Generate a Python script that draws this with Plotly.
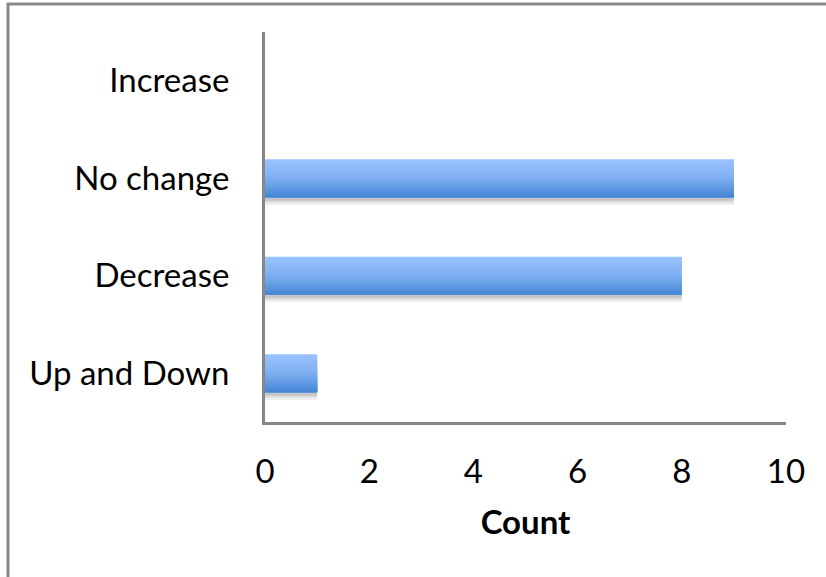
import plotly.graph_objects as go

categories = ["Increase", "No change", "Decrease", "Up and Down"]
counts = [0, 9, 8, 1]
x_ticks = [0, 2, 4, 6, 8, 10]
x_title = "Count"

W, H = 826, 577
L, R, T, B = 265, 40, 32, 155

bar_w = 0.39
n_strips = 16
top_rgb = (152, 194, 255)
mid_rgb = (126, 175, 240)
bot_rgb = (72, 136, 216)

def lerp(a, b, t):
    return tuple(int(round(a[i] + (b[i] - a[i]) * t)) for i in range(3))

fig = go.Figure()

# soft shadow under each bar
for alpha, extra in [(0.06, 0.07), (0.08, 0.045), (0.10, 0.025)]:
    fig.add_trace(go.Bar(
        y=categories, x=counts, orientation="h",
        width=bar_w + extra, offset=-bar_w / 2 + 0.01,
        marker=dict(color=f"rgba(0,0,0,{alpha})", line=dict(width=0)),
        hoverinfo="skip", showlegend=False,
    ))

sw = bar_w / n_strips
for i in range(n_strips):
    t = i / (n_strips - 1)
    if t < 0.5:
        c = lerp(top_rgb, mid_rgb, t / 0.5)
    else:
        c = lerp(mid_rgb, bot_rgb, (t - 0.5) / 0.5)
    fig.add_trace(go.Bar(
        y=categories, x=counts, orientation="h",
        width=bar_w - i * sw, offset=-bar_w / 2 + i * sw,
        marker=dict(color=f"rgb{c}", line=dict(width=0)),
        hoverinfo="skip", showlegend=False,
    ))

fig.update_layout(
    width=W, height=H,
    margin=dict(l=L, r=R, t=T, b=B),
    paper_bgcolor="white", plot_bgcolor="white",
    barmode="overlay",
    font=dict(family="Lato, Open Sans, sans-serif", size=33, color="black"),
    xaxis=dict(
        range=[0, 10], tickvals=x_ticks, showgrid=False, zeroline=False,
        showline=True, linecolor="#878787", linewidth=3,
        ticks="", ticklabelstandoff=18,
        title=dict(text="<b>" + x_title + "</b>", standoff=23,
                   font=dict(size=33)),
    ),
    yaxis=dict(
        categoryorder="array", categoryarray=categories,
        autorange="reversed", showgrid=False, zeroline=False,
        showline=True, linecolor="#878787", linewidth=3,
        ticks="", ticklabelstandoff=26,
    ),
    shapes=[
        dict(type="rect", xref="paper", yref="paper",
             x0=(8 - L) / (W - L - R), x1=(W + 20 - L) / (W - L - R),
             y0=(H - B - (H + 20)) / (H - T - B), y1=(H - B - 4) / (H - T - B),
             line=dict(color="#888888", width=3), fillcolor="rgba(0,0,0,0)",
             layer="below"),
    ],
)

fig.write_html("out.html")
